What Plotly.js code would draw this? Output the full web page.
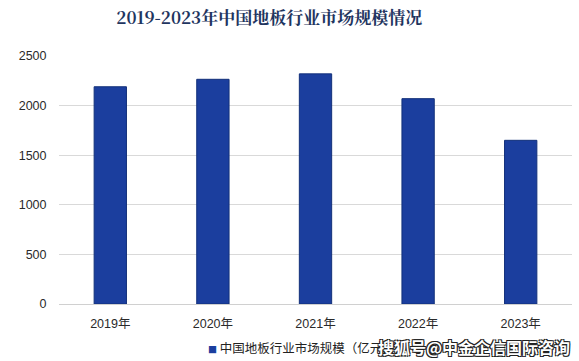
<!DOCTYPE html>
<html><head><meta charset="utf-8">
<script src="https://cdn.plot.ly/plotly-3.0.1.min.js"></script>
<style>html,body{margin:0;padding:0;background:#fff;}</style>
</head><body>
<div id="chart" style="width:579px;height:361px;"></div>
<script>
const categories = ["2019年","2020年","2021年","2022年","2023年"];
const marketSize = [2190, 2265, 2320, 2070, 1650];
const yTicks = [0, 500, 1000, 1500, 2000, 2500];
const seriesName = "中国地板行业市场规模（亿元）";
const titleText = "2019-2023年中国地板行业市场规模情况";
const watermark = "搜狐号@中金企信国际咨询";

const barColor = "#1b3e9e";
const baseFont = "Liberation Sans, Arial, Noto Sans CJK SC, sans-serif";

Plotly.newPlot("chart", [{
  type: "bar",
  x: categories,
  y: marketSize,
  name: seriesName,
  marker: {color: barColor, line: {color: "#12307a", width: 1}},
  showlegend: false
}], {
  width: 579, height: 361,
  margin: {l: 59, r: 7, t: 56, b: 57, autoexpand: false},
  paper_bgcolor: "#ffffff", plot_bgcolor: "#ffffff",
  bargap: 0.685,
  title: {
    text: "<b>" + titleText + "</b>",
    x: 0.465, xanchor: "center", y: 0.95, yanchor: "middle",
    font: {family: "Noto Serif CJK SC, Noto Sans CJK SC, serif", size: 17, color: "#1f3560"}
  },
  xaxis: {
    tickfont: {family: baseFont, size: 12.5, color: "#2a2a2a"},
    showline: false, ticks: "outside", ticklen: 8, tickcolor: "rgba(0,0,0,0)", showgrid: false
  },
  yaxis: {
    range: [0, 2500], tickvals: yTicks,
    tickfont: {family: baseFont, size: 12.5, color: "#2a2a2a"},
    gridcolor: "#d9d9d9", gridwidth: 1,
    zeroline: true, zerolinecolor: "#d0d0d0", zerolinewidth: 1,
    ticks: "outside", ticklen: 9, tickcolor: "rgba(0,0,0,0)", showline: false
  },
  showlegend: false,
  annotations: [{
    text: "<span style='color:" + barColor + ";font-size:9px'>■</span> " + seriesName,
    xref: "paper", yref: "paper",
    x: 0.286, xanchor: "left", y: -0.175, yanchor: "middle",
    showarrow: false, align: "left",
    font: {family: "Noto Sans CJK SC, sans-serif", size: 12.5, color: "#222222"}
  }, {
    text: "<b>" + watermark + "</b>",
    xref: "paper", yref: "paper",
    x: 0.618, xanchor: "left", y: -0.175, yanchor: "middle",
    showarrow: false,
    font: {family: "Noto Sans CJK SC, sans-serif", size: 16, color: "#ffffff",
      shadow: "1px 1px 0 #222, -1px -1px 0 #222, 1px -1px 0 #222, -1px 1px 0 #222"}
  }]
}, {displayModeBar: false, staticPlot: true});
</script>
</body></html>
